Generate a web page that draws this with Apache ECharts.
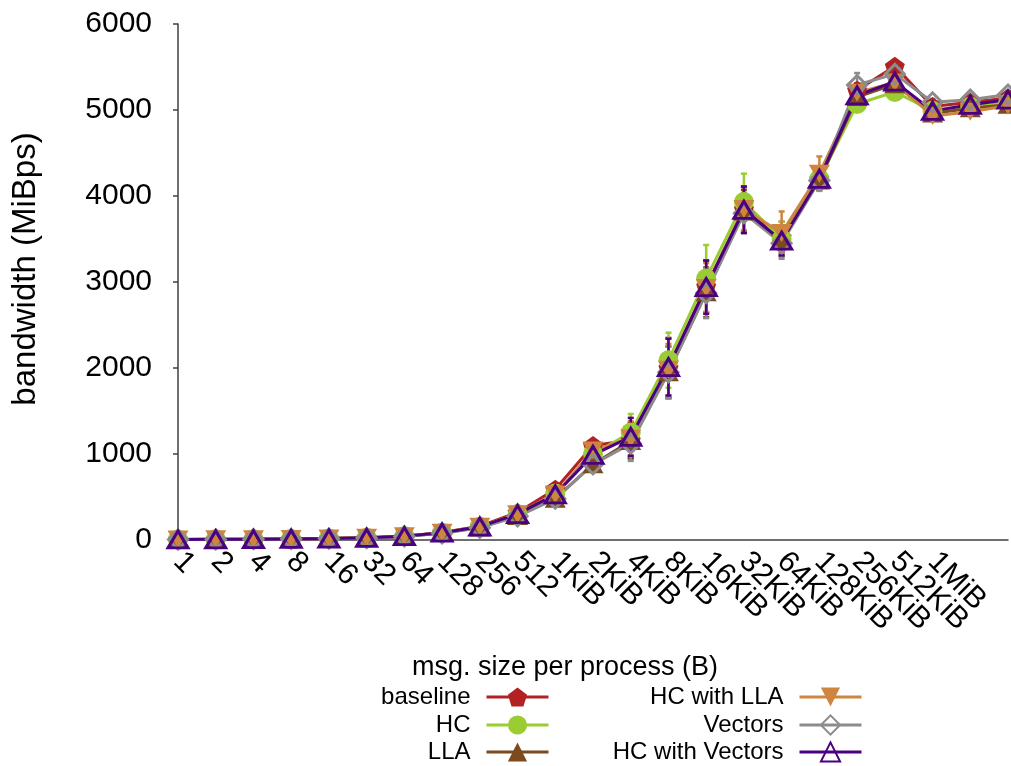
<!DOCTYPE html>
<html>
<head>
<meta charset="utf-8">
<script src="https://cdn.jsdelivr.net/npm/echarts@6/dist/echarts.min.js"></script>
<style>
html,body{margin:0;padding:0;background:#fff;}
#chart{width:1011px;height:766px;}
</style>
</head>
<body>
<div id="chart"></div>
<script>
// ---- data ----
const categories = ['1','2','4','8','16','32','64','128','256','512','1KiB','2KiB','4KiB','8KiB','16KiB','32KiB','64KiB','128KiB','256KiB','512KiB','1MiB','2MiB','4MiB'];
const tickLabels = ['1','2','4','8','16','32','64','128','256','512','1KiB','2KiB','4KiB','8KiB','16KiB','32KiB','64KiB','128KiB','256KiB','512KiB','1MiB','',''];
const yTicks = [0, 1000, 2000, 3000, 4000, 5000, 6000];

const seriesNames = ['baseline','HC','LLA','HC with LLA','Vectors','HC with Vectors'];

const baseline     = [6,8,10,13,17,25,45,88,160,320,590,1100,1160,2000,2950,3850,3520,4200,5230,5510,5040,5090,5140];
const hc           = [6,8,10,13,17,25,45,85,155,300,540,1000,1250,2090,3040,3930,3500,4200,5070,5210,4990,5040,5080];
const lla          = [5,7,9,12,16,23,42,80,145,280,480,880,1150,1950,2880,3820,3480,4180,5150,5300,4960,5020,5060];
const hcWithLla    = [6,8,10,13,17,25,45,85,155,300,530,1040,1180,1980,2930,3850,3570,4260,5200,5320,4930,4980,5050];
const vectors      = [5,7,9,12,16,23,42,78,142,275,480,880,1120,1950,2870,3800,3450,4180,5290,5420,5090,5120,5180];
const hcWithVectors= [6,8,10,13,17,25,45,85,155,300,530,990,1200,2010,2940,3840,3480,4200,5170,5330,4990,5060,5120];

// error half-widths
const baselineErr      = [2,2,2,2,3,4,6,10,15,20,40,60,210,350,300,260,180,110,80,70,40,40,40];
const hcErr            = [2,2,2,2,3,4,6,10,15,20,40,60,215,320,390,330,200,110,80,70,40,40,40];
const llaErr           = [2,2,2,2,3,4,6,10,15,20,40,60,200,300,290,250,180,110,80,70,40,40,40];
const hcWithLlaErr     = [2,2,2,2,3,4,6,10,15,20,40,60,200,300,290,250,250,200,80,70,40,40,40];
const vectorsErr       = [2,2,2,2,3,4,6,10,15,20,40,60,200,300,290,230,180,110,140,70,40,40,40];
const hcWithVectorsErr = [2,2,2,2,3,4,6,10,15,20,40,60,220,330,310,270,170,100,70,80,40,40,40];

// ---- styles ----
const FONT = 'Liberation Sans';
const colors = ['#b22222','#9acd32','#7b4a1e','#cd853f','#8c8c8c','#4b0082'];
const pentagon = 'path://M0,-1L0.951,-0.309L0.588,0.809L-0.588,0.809L-0.951,-0.309Z';
const symbolDefs = [
  {symbol: pentagon, size: [20,19], rotate: 0, hollow: false},
  {symbol: 'circle', size: 20, rotate: 0, hollow: false},
  {symbol: 'triangle', size: [21,18], rotate: 0, hollow: false},
  {symbol: 'triangle', size: [21,18], rotate: 180, hollow: false},
  {symbol: 'diamond', size: [19,19], rotate: 0, hollow: true},
  {symbol: 'triangle', size: [20,17], rotate: 0, hollow: true}
];
const values = [baseline, hc, lla, hcWithLla, vectors, hcWithVectors];
const errs = [baselineErr, hcErr, llaErr, hcWithLlaErr, vectorsErr, hcWithVectorsErr];

const series = [];
seriesNames.forEach(function(name, k){
  const col = colors[k];
  const errData = values[k].map(function(v, i){ return [i, v - errs[k][i], v + errs[k][i]]; });
  series.push({
    type: 'custom',
    name: name + ' err',
    data: errData,
    encode: {x: 0, y: [1, 2]},
    silent: true,
    z: 2,
    renderItem: function(params, api){
      const x = api.value(0);
      const lo = api.coord([x, api.value(1)]);
      const hi = api.coord([x, api.value(2)]);
      const st = {stroke: col, lineWidth: 2.5};
      return {type: 'group', children: [
        {type: 'line', shape: {x1: lo[0], y1: lo[1], x2: hi[0], y2: hi[1]}, style: st},
        {type: 'line', shape: {x1: lo[0]-3, y1: lo[1], x2: lo[0]+3, y2: lo[1]}, style: st},
        {type: 'line', shape: {x1: hi[0]-3, y1: hi[1], x2: hi[0]+3, y2: hi[1]}, style: st}
      ]};
    }
  });
  const sd = symbolDefs[k];
  series.push({
    type: 'line',
    name: name,
    data: values[k],
    z: 2,
    symbol: sd.symbol,
    symbolSize: sd.size,
    symbolRotate: sd.rotate,
    showAllSymbol: true,
    lineStyle: {color: col, width: 3},
    itemStyle: sd.hollow ? {color: 'rgba(255,255,255,0)', borderColor: col, borderWidth: 3}
                         : {color: col, borderWidth: 0},
    emphasis: {disabled: true}
  });
});

// legends: one per entry, text right-aligned before the sample
const legendPos = [
  {right: 461, cy: 697}, {right: 461, cy: 725}, {right: 461, cy: 752},
  {right: 148, cy: 697}, {right: 148, cy: 725}, {right: 148, cy: 752}
];
const legends = seriesNames.map(function(name, k){
  return {
    data: [name],
    right: legendPos[k].right,
    top: legendPos[k].cy - 12,
    align: 'right',
    orient: 'vertical',
    padding: 0,
    itemWidth: 62,
    itemHeight: 24,
    selectedMode: false,
    lineStyle: {width: 3},
    textStyle: {fontFamily: FONT, fontSize: 24, color: '#000', lineHeight: 24, padding: [0, 11, 0, 0]}
  };
});

const chart = echarts.init(document.getElementById('chart'), null, {renderer: 'canvas'});
chart.setOption({
  animation: false,
  backgroundColor: '#fff',
  grid: {left: 178, right: 3, top: 24, bottom: 226, containLabel: false},
  xAxis: {
    type: 'category',
    data: categories,
    boundaryGap: false,
    axisLine: {show: true, lineStyle: {color: '#404040', width: 1.5}},
    axisTick: {show: false},
    axisLabel: {
      interval: 0,
      rotate: -45,
      margin: 17,
      fontFamily: FONT,
      fontSize: 30,
      color: '#000',
      formatter: function(v, i){ return tickLabels[i]; }
    },
    splitLine: {show: false}
  },
  yAxis: {
    type: 'value',
    min: yTicks[0],
    max: yTicks[yTicks.length - 1],
    interval: yTicks[1] - yTicks[0],
    axisLine: {show: true, lineStyle: {color: '#404040', width: 1.5}},
    axisTick: {show: true, inside: false, length: 5, lineStyle: {color: '#404040', width: 1.5}},
    axisLabel: {margin: 26, fontFamily: FONT, fontSize: 30, color: '#000',
                formatter: function(v){ return String(v); }},
    splitLine: {show: false}
  },
  legend: legends,
  graphic: [
    {type: 'text', x: 26, y: 269, rotation: Math.PI / 2,
     style: {text: 'bandwidth (MiBps)', fontFamily: FONT, fontSize: 33, fill: '#000', textAlign: 'center', textVerticalAlign: 'middle'}},
    {type: 'text', x: 565, y: 668,
     style: {text: 'msg. size per process (B)', fontFamily: FONT, fontSize: 27, fill: '#000', textAlign: 'center', textVerticalAlign: 'middle'}}
  ],
  series: series
});
</script>
</body>
</html>
